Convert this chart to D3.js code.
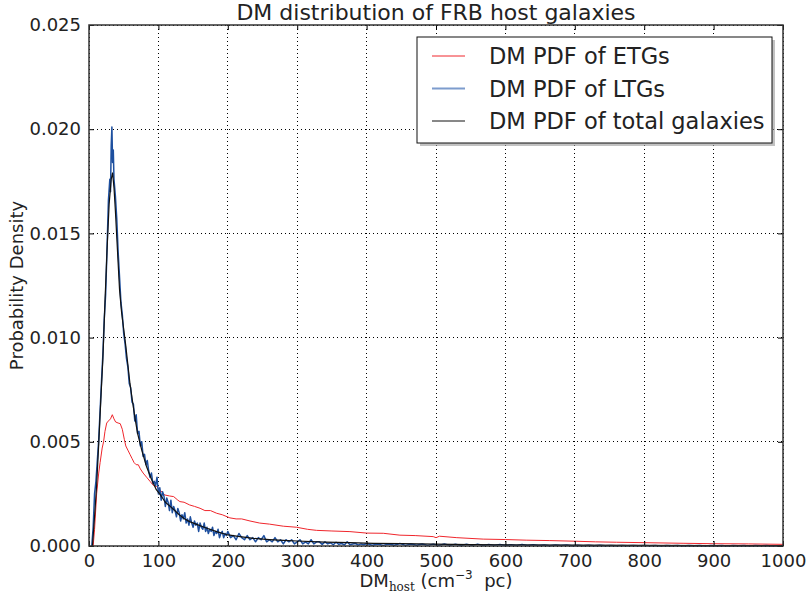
<!DOCTYPE html>
<html>
<head>
<meta charset="utf-8">
<script src="https://cdn.jsdelivr.net/npm/d3@7"></script>
<style>
	body { margin: 0; background: #fff; }
	svg { display: block; font-family: 'DejaVu Sans', sans-serif; }
</style>
</head>
<body>
<div id="chart"></div>
<script>

/***********************************************************************/
//Data
/***********************************************************************/
const xTicks = [0, 100, 200, 300, 400, 500, 600, 700, 800, 900, 1000]
const yTicks = [0, 0.005, 0.01, 0.015, 0.02, 0.025]
const seriesNames = ['DM PDF of ETGs', 'DM PDF of LTGs', 'DM PDF of total galaxies']

// [DM_host, probability density]
const etgPdf = [
	[6,0],[8,0.0008],[11,0.0025],[14,0.0035],[16,0.0040],[19,0.0047],[21,0.0050],[23,0.0055],
	[25.5,0.0059],[28,0.0060],[31,0.0061],[33.6,0.0063],[36,0.0061],[38.4,0.00595],[42,0.0059],
	[45,0.00587],[48,0.0056],[51,0.0051],[53,0.0048],[56,0.0046],[59,0.0044],[62,0.0042],
	[65,0.0040],[68,0.0039],[71,0.0039],[74,0.0037],[78,0.0035],[83,0.0033],[88,0.0031],
	[93,0.0029],[97.5,0.00285],[102,0.0027],[109,0.00245],[116,0.0024],[122,0.00237],
	[128,0.0022],[131,0.00213],[137,0.0021],[145,0.00197],[152,0.0019],[160,0.00181],
	[167,0.0017],[175,0.0017],[184,0.00157],[192,0.0015],[203,0.00135],[212,0.0013],
	[220,0.0013],[232,0.0012],[246,0.0011],[260,0.00105],[280,0.00095],[299,0.0009],
	[315,0.0008],[328,0.00075],[350,0.00072],[376,0.00069],[400,0.00062],[424,0.00061],
	[448,0.00052],[470,0.0005],[496,0.00045],[500,0.0004],[505,0.00047],[530,0.0004],
	[568,0.00033],[600,0.00031],[630,0.00028],[664,0.00026],[700,0.00023],[730,0.0002],
	[760,0.00018],[800,0.00016],[856,0.00013],[900,0.00011],[950,0.0001],[1000,0.00008]
]

const ltgPdf = [
	[4,0],[6,0.0009],[8,0.0025],[10,0.0031],[12,0.0041],[14,0.0051],[16,0.0065],[18,0.0079],
	[20,0.0092],[22,0.0109],[24,0.0121],[26,0.0143],[28,0.0166],[30,0.0176],[31,0.0170],
	[32,0.0192],[33,0.0201],[34,0.0184],[35,0.0190],[36,0.0176],[38,0.0168],[40,0.0157],
	[42,0.0141],[44,0.0129],[46,0.0117],[48,0.0111],[50,0.0102],[52,0.0097],[54,0.0090],
	[56,0.0086],[58,0.0078],[60,0.0076],[62,0.0069],[64,0.0068],[66,0.0060],[68,0.0063],
	[70,0.0054],[72,0.0055],[74,0.0048],[76,0.0050],[78,0.0043],[80,0.0044],[82,0.0039],
	[84,0.0041],[86,0.0036],[88,0.0033],[90,0.0035],[92,0.0030],[94,0.0031],[96,0.0029],
	[98,0.0033],[100,0.0025],[102,0.0028],[104,0.0022],[106,0.0026],[108,0.0024],[110,0.0019],
	[112,0.0023],[114,0.0021],[116,0.0017],[118,0.0022],[120,0.0016],[122,0.0019],[124,0.0017],
	[126,0.0014],[128,0.0018],[130,0.0016],[132,0.0012],[134,0.0015],[136,0.0013],[138,0.0016],
	[140,0.0011],[142,0.0013],[144,0.0010],[146,0.0014],[148,0.0011],[150,0.0009],[152,0.0012],
	[154,0.0010],[156,0.0011],[158,0.0007],[160,0.0011],[162,0.0009],[164,0.0008],[166,0.0011],
	[168,0.0007],[170,0.0009],[172,0.0006],[174,0.0008],[176,0.0007],[178,0.0009],[180,0.0005],
	[182,0.0007],[184,0.0006],[186,0.0008],[188,0.0004],[190,0.0006],[192,0.0007],[194,0.0004],
	[196,0.0006],[198,0.0005],[200,0.0007],[204,0.0004],[208,0.0005],[212,0.0003],[216,0.0006],
	[220,0.0004],[224,0.0003],[228,0.0005],[232,0.0003],[236,0.0004],[240,0.0002],[244,0.0004],
	[248,0.0003],[252,0.0005],[256,0.0002],[260,0.0003],[264,0.0002],[268,0.0004],[272,0.0002],
	[276,0.0003],[280,0.0001],[284,0.0003],[288,0.0002],[292,0.0003],[296,0.0001],[300,0.0002],
	[304,0.0003],[308,0.0001],[312,0.0002],[316,0.0001],[320,0.0003],[324,0.0001],[328,0.0002],
	[332,0.0002],[336,0.00008],[340,0.0002],[344,0.0001],[348,0.00015],[352,0.00006],
	[356,0.00018],[360,0.00008],[364,0.00012],[368,0.00005],[372,0.0002],[376,0.00006],
	[380,0.0001],[384,0.00012],[388,0.00004],[392,0.0001],[396,0.00006],[400,0.00012],
	[408,0.00004],[416,0.0001],[424,0.00003],[432,0.0001],[440,0.00004],[448,0.00012],
	[456,0.00003],[464,0.0001],[472,0.00004],[480,0.0001],[488,0.00003],[496,0.00009],
	[504,0.00003],[512,0.0001],[520,0.00003],[528,0.00008],[536,0.00002],[544,0.00008],
	[552,0.00003],[560,0.00009],[568,0.00002],[576,0.00007],[584,0.00003],[592,0.00007],
	[600,0.00002],[608,0.00006],[616,0.00002],[624,0.00007],[632,0.00002],[640,0.00006],
	[648,0.00002],[656,0.00005],[664,0.00001],[672,0.00005],[680,0.00002],[688,0.00005],
	[696,0.00001],[704,0.00004],[712,0.00001],[720,0.00004],[728,0.00001],[736,0.00004],
	[744,0.00001],[752,0.00003],[760,0.00001],[768,0.00003],[776,0.00001],[784,0.00003],
	[792,0.00001],[800,0.00003],[808,0.00001],[816,0.00003],[824,0],[832,0.00002],[840,0.00001],
	[848,0.00003],[856,0],[864,0.00002],[872,0.00001],[880,0.00002],[888,0],[896,0.00002],
	[904,0.00001],[912,0.00002],[920,0],[928,0.00002],[936,0.00001],[944,0.00002],[952,0],
	[960,0.00002],[968,0.00001],[976,0.00002],[984,0],[992,0.00001],[1000,0.00001]
]

const totalPdf = [
	[5,0],[8,0.0014],[11,0.0029],[14,0.0049],[17,0.0070],[20,0.0090],[23,0.0117],[26,0.0142],
	[29,0.0164],[32,0.0176],[34,0.0179],[36,0.0172],[38,0.0161],[41,0.0142],[44,0.0123],
	[47,0.0112],[50,0.0104],[53,0.0096],[56,0.0087],[59,0.0078],[62,0.0071],[66,0.0062],
	[70,0.0054],[76,0.0046],[83,0.0038],[90,0.0032],[97,0.0027],[104,0.0024],[110,0.0021],
	[117,0.0019],[122,0.00175],[130,0.0015],[138,0.0013],[145,0.00117],[155,0.00104],
	[170,0.00085],[185,0.00068],[198,0.00055],[215,0.00046],[237,0.00037],[260,0.00031],
	[280,0.00027],[300,0.00024],[340,0.00019],[376,0.00016],[410,0.00013],[450,0.00011],
	[500,0.00009],[550,0.00007],[600,0.00006],[700,0.00004],[800,0.00003],[900,0.00002],
	[1000,0.00002]
]

const series = [
	{ name : seriesNames[0], data : etgPdf, color : '#f0262c', width : 1, legendWidth : 1 },
	{ name : seriesNames[1], data : ltgPdf, color : '#1d4f9f', width : 1.5, legendWidth : 2, legendColor : '#7d9ccd' },
	{ name : seriesNames[2], data : totalPdf, color : '#111111', width : 1.2, legendWidth : 1 }
]

/***********************************************************************/
//Plot Area
/***********************************************************************/
const width = 809
const height = 598
const margin = { left : 89, right : 26, top : 25, bottom : 52 }

const plotAreaWidth = width - margin.left - margin.right
const plotAreaHeight = height - margin.top - margin.bottom

const svg = d3.select('#chart')
	.append('svg')
	.attr('width', width)
	.attr('height', height)

const g = svg.append('g')
	.attr('transform', 'translate(' + margin.left + ',' + margin.top + ')')

/***********************************************************************/
//Scale
/***********************************************************************/
const xScale = d3.scaleLinear()
	.domain([0, 1000])
	.range([0, plotAreaWidth])

const yScale = d3.scaleLinear()
	.domain([0, 0.025])
	.range([plotAreaHeight, 0])

/***********************************************************************/
//Grid
/***********************************************************************/
const gridG = g.append('g').attr('class', 'grid')

gridG.selectAll('.vgrid')
	.data(xTicks)
	.join('line')
	.attr('x1', d => xScale(d))
	.attr('x2', d => xScale(d))
	.attr('y1', 0)
	.attr('y2', plotAreaHeight)
	.attr('stroke', '#000')
	.attr('stroke-width', 1)
	.attr('stroke-dasharray', '1,3')
	.attr('shape-rendering', 'crispEdges')

gridG.selectAll('.hgrid')
	.data(yTicks)
	.join('line')
	.attr('x1', 0)
	.attr('x2', plotAreaWidth)
	.attr('y1', d => yScale(d))
	.attr('y2', d => yScale(d))
	.attr('stroke', '#000')
	.attr('stroke-width', 1)
	.attr('stroke-dasharray', '1,3')
	.attr('shape-rendering', 'crispEdges')

/***********************************************************************/
// Plotting
/***********************************************************************/
const line = d3.line()
	.x(d => xScale(d[0]))
	.y(d => yScale(d[1]))

series.forEach(({ data, color, width }) => {
	g.append('path')
		.datum(data)
		.attr('fill', 'none')
		.attr('stroke', color)
		.attr('stroke-width', width)
		.attr('stroke-linejoin', 'round')
		.attr('d', line)
})

/***********************************************************************/
//Axes
/***********************************************************************/
const fmtY = d3.format('.3f')

const axisStyle = sel => {
	sel.select('.domain').remove()
	sel.selectAll('.tick line').attr('stroke', '#000').attr('stroke-width', 1)
	sel.selectAll('.tick text')
		.attr('fill', '#222')
		.style('font-size', '18px')
		.style('font-family', 'DejaVu Sans')
}

g.append('g')
	.attr('transform', 'translate(0,' + plotAreaHeight + ')')
	.call(d3.axisBottom(xScale).tickValues(xTicks).tickSize(-5).tickPadding(8).tickFormat(d3.format('d')))
	.call(axisStyle)

g.append('g')
	.call(d3.axisTop(xScale).tickValues(xTicks).tickSize(-5).tickFormat(''))
	.call(axisStyle)

g.append('g')
	.call(d3.axisLeft(yScale).tickValues(yTicks).tickSize(-5).tickPadding(8).tickFormat(fmtY))
	.call(axisStyle)

g.append('g')
	.attr('transform', 'translate(' + plotAreaWidth + ',0)')
	.call(d3.axisRight(yScale).tickValues(yTicks).tickSize(-5).tickFormat(''))
	.call(axisStyle)

// frame
g.append('rect')
	.attr('x', 0)
	.attr('y', 0)
	.attr('width', plotAreaWidth)
	.attr('height', plotAreaHeight)
	.attr('fill', 'none')
	.attr('stroke', '#333')
	.attr('stroke-width', 1.5)

/***********************************************************************/
//Labels
/***********************************************************************/
svg.append('text')
	.attr('x', margin.left + plotAreaWidth / 2)
	.attr('y', 20)
	.attr('text-anchor', 'middle')
	.attr('fill', '#222')
	.style('font-size', '22px')
	.text('DM distribution of FRB host galaxies')

svg.append('text')
	.attr('transform', 'translate(23,' + (margin.top + plotAreaHeight / 2) + ') rotate(-90)')
	.attr('text-anchor', 'middle')
	.attr('fill', '#222')
	.style('font-size', '18px')
	.text('Probability Density')

const xLabel = svg.append('text')
	.attr('x', margin.left + plotAreaWidth / 2)
	.attr('y', 587)
	.attr('text-anchor', 'middle')
	.attr('fill', '#222')
	.style('font-size', '18px')

xLabel.append('tspan').text('DM')
xLabel.append('tspan')
	.attr('dy', 4)
	.style('font-size', '12px')
	.style('font-family', 'DejaVu Serif')
	.text('host')
xLabel.append('tspan')
	.attr('dy', -4)
	.text(' (cm')
xLabel.append('tspan')
	.attr('dy', -8)
	.style('font-size', '12px')
	.text('\u22123')
xLabel.append('tspan')
	.attr('dy', 8)
	.text('\u00a0 pc)')

/***********************************************************************/
//Legend
/***********************************************************************/
const legend = svg.append('g')
	.attr('transform', 'translate(417,37)')

legend.append('rect')
	.attr('x', 3)
	.attr('y', 3)
	.attr('width', 355)
	.attr('height', 106)
	.attr('fill', '#999')
	.attr('opacity', 0.6)

legend.append('rect')
	.attr('width', 355)
	.attr('height', 106)
	.attr('fill', '#fff')
	.attr('stroke', '#111')
	.attr('stroke-width', 1)

series.forEach(({ name, color, legendColor, legendWidth }, i) => {
	const y = 19 + i * 32.5
	legend.append('line')
		.attr('x1', 15)
		.attr('x2', 48)
		.attr('y1', y)
		.attr('y2', y)
		.attr('stroke', legendColor || color)
		.attr('stroke-width', legendWidth)
	legend.append('text')
		.attr('x', 72)
		.attr('y', y + 8)
		.attr('fill', '#222')
		.style('font-size', '22.5px')
		.text(name)
})
</script>
</body>
</html>
